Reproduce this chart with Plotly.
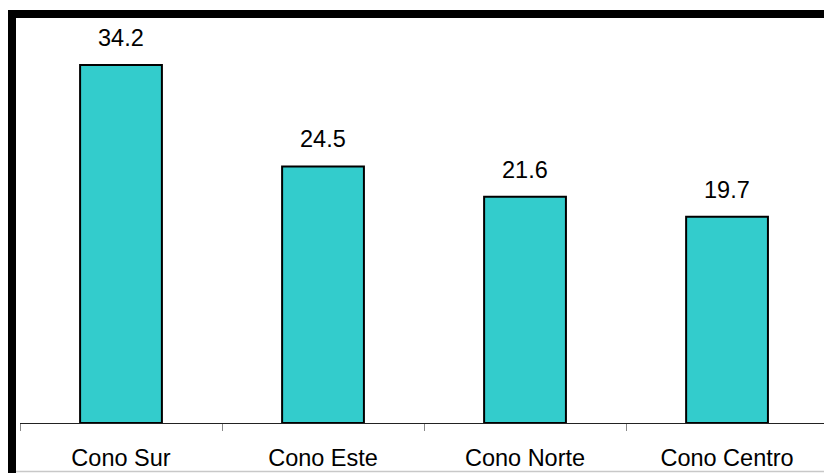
import plotly.graph_objects as go

categories = ["Cono Sur", "Cono Este", "Cono Norte", "Cono Centro"]
values = [34.2, 24.5, 21.6, 19.7]
value_labels = ["34.2", "24.5", "21.6", "19.7"]

W, H = 824, 473
L, R, T, B = 20, 0, 18, 50
pw, ph = W - L - R, H - T - B

def px(x):
    return (x - L) / pw

def py(y):
    return (H - B - y) / ph

fig = go.Figure()
fig.add_trace(go.Bar(
    x=categories, y=values, width=0.405,
    marker=dict(color="#33CCCC", line=dict(color="#000000", width=2)),
    hoverinfo="skip",
))

for c, v, t in zip(categories, values, value_labels):
    fig.add_annotation(x=c, y=v, text=t, showarrow=False, xref="x", yref="y",
                       yanchor="middle", yshift=27,
                       font=dict(family="Liberation Sans, Arial", size=23.5, color="#000"))

shapes = [
    dict(type="rect", xref="paper", yref="paper", x0=px(8), x1=px(824), y0=py(18), y1=py(10),
         fillcolor="#000", line=dict(width=0), layer="above"),
    dict(type="rect", xref="paper", yref="paper", x0=px(8), x1=px(16), y0=py(473), y1=py(10),
         fillcolor="#000", line=dict(width=0), layer="above"),
    dict(type="line", xref="paper", yref="paper", x0=px(16), x1=px(824), y0=py(471.5), y1=py(471.5),
         line=dict(color="#c8c8c8", width=1.5)),
]

fig.update_layout(
    width=W, height=H,
    margin=dict(l=L, r=R, t=T, b=B, pad=0),
    paper_bgcolor="white", plot_bgcolor="white",
    showlegend=False,
    shapes=shapes,
    bargap=0.595,
    xaxis=dict(
        range=[-0.5, 3.48], showgrid=False, zeroline=False,
        showline=True, linecolor="#222", linewidth=1,
        ticks="outside", tickson="boundaries", ticklen=7, tickcolor="#888", tickwidth=1,
        ticklabelstandoff=14,
        tickfont=dict(family="Liberation Sans, Arial", size=23.5, color="#000"),
        fixedrange=True,
    ),
    yaxis=dict(
        range=[0, 405 / 10.47], showgrid=False, zeroline=False, showline=False,
        showticklabels=False, ticks="", fixedrange=True,
    ),
)

fig.write_html("out.html")
